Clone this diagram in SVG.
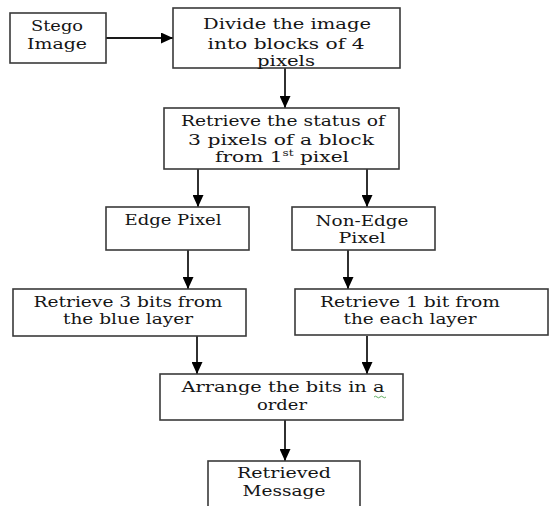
<svg xmlns="http://www.w3.org/2000/svg" width="550" height="506" viewBox="0 0 550 506">
<defs>
<style>
.box{fill:#fff;stroke:#3a3a3a;stroke-width:1.6}
.t{font-family:'DejaVu Serif','Liberation Serif',serif;font-size:15px;fill:#151515;text-anchor:middle}
.c{stroke:#1a1a1a;stroke-width:1.8;fill:none;marker-end:url(#ah)}
</style>
<marker id="ah" markerUnits="userSpaceOnUse" markerWidth="13" markerHeight="11" refX="12" refY="5.5" orient="auto">
<path d="M0,0 L12,5.5 L0,11 z" fill="#000"/>
</marker>
</defs>
<rect width="550" height="506" fill="#fff"/>
<g id="connectors">
<path class="c" d="M106,38 L173,38"/>
<path class="c" d="M285,68 L285,108"/>
<path class="c" d="M198,169 L198,207"/>
<path class="c" d="M367,169 L367,207"/>
<path class="c" d="M188,250 L188,289"/>
<path class="c" d="M348,250 L348,289"/>
<path class="c" d="M197,336 L197,374"/>
<path class="c" d="M367,336 L367,374"/>
<path class="c" d="M285,420 L285,461"/>
</g>
<g id="stego">
<rect class="box" x="10" y="13" width="96" height="50"/>
<text class="t" x="57" y="31" textLength="52" lengthAdjust="spacingAndGlyphs">Stego</text>
<text class="t" x="57" y="49" textLength="60" lengthAdjust="spacingAndGlyphs">Image</text>
</g>
<g id="divide">
<rect class="box" x="173" y="8" width="227" height="60"/>
<text class="t" x="287" y="29" textLength="168" lengthAdjust="spacingAndGlyphs">Divide the image</text>
<text class="t" x="286" y="49" textLength="157" lengthAdjust="spacingAndGlyphs">into blocks of 4</text>
<text class="t" x="286" y="66" textLength="58" lengthAdjust="spacingAndGlyphs">pixels</text>
</g>
<g id="status">
<rect class="box" x="164" y="108" width="235" height="61"/>
<text class="t" x="283" y="126" textLength="204" lengthAdjust="spacingAndGlyphs">Retrieve the status of</text>
<text class="t" x="281" y="145" textLength="186" lengthAdjust="spacingAndGlyphs">3 pixels of a block</text>
<text class="t" x="282" y="162" textLength="134" lengthAdjust="spacingAndGlyphs">from 1<tspan font-size="9" dy="-6">st</tspan><tspan dy="6"> pixel</tspan></text>
</g>
<g id="edge">
<rect class="box" x="106" y="207" width="143" height="43"/>
<text class="t" x="173" y="225" textLength="97" lengthAdjust="spacingAndGlyphs">Edge Pixel</text>
</g>
<g id="nonedge">
<rect class="box" x="292" y="207" width="143" height="43"/>
<text class="t" x="362" y="226" textLength="93" lengthAdjust="spacingAndGlyphs">Non-Edge</text>
<text class="t" x="362" y="243" textLength="47" lengthAdjust="spacingAndGlyphs">Pixel</text>
</g>
<g id="ret3">
<rect class="box" x="13" y="289" width="233" height="47"/>
<text class="t" x="128" y="307" textLength="189" lengthAdjust="spacingAndGlyphs">Retrieve 3 bits from</text>
<text class="t" x="128" y="324" textLength="130" lengthAdjust="spacingAndGlyphs">the blue layer</text>
</g>
<g id="ret1">
<rect class="box" x="295" y="289" width="253" height="46"/>
<text class="t" x="410" y="307" textLength="180" lengthAdjust="spacingAndGlyphs">Retrieve 1 bit from</text>
<text class="t" x="410" y="324" textLength="133" lengthAdjust="spacingAndGlyphs">the each layer</text>
</g>
<g id="arrange">
<rect class="box" x="160" y="374" width="243" height="46"/>
<text class="t" x="283" y="392" textLength="203" lengthAdjust="spacingAndGlyphs">Arrange the bits in a</text>
<path d="M374,397 q1.5,-1.6 3,0 t3,0 t3,0 t3,0" fill="none" stroke="#3a9a3a" stroke-width="0.8"/>
<text class="t" x="282" y="410" textLength="50" lengthAdjust="spacingAndGlyphs">order</text>
</g>
<g id="retrieved">
<rect class="box" x="208" y="461" width="152" height="60"/>
<text class="t" x="284" y="478" textLength="94" lengthAdjust="spacingAndGlyphs">Retrieved</text>
<text class="t" x="284" y="496" textLength="83" lengthAdjust="spacingAndGlyphs">Message</text>
</g>
</svg>
